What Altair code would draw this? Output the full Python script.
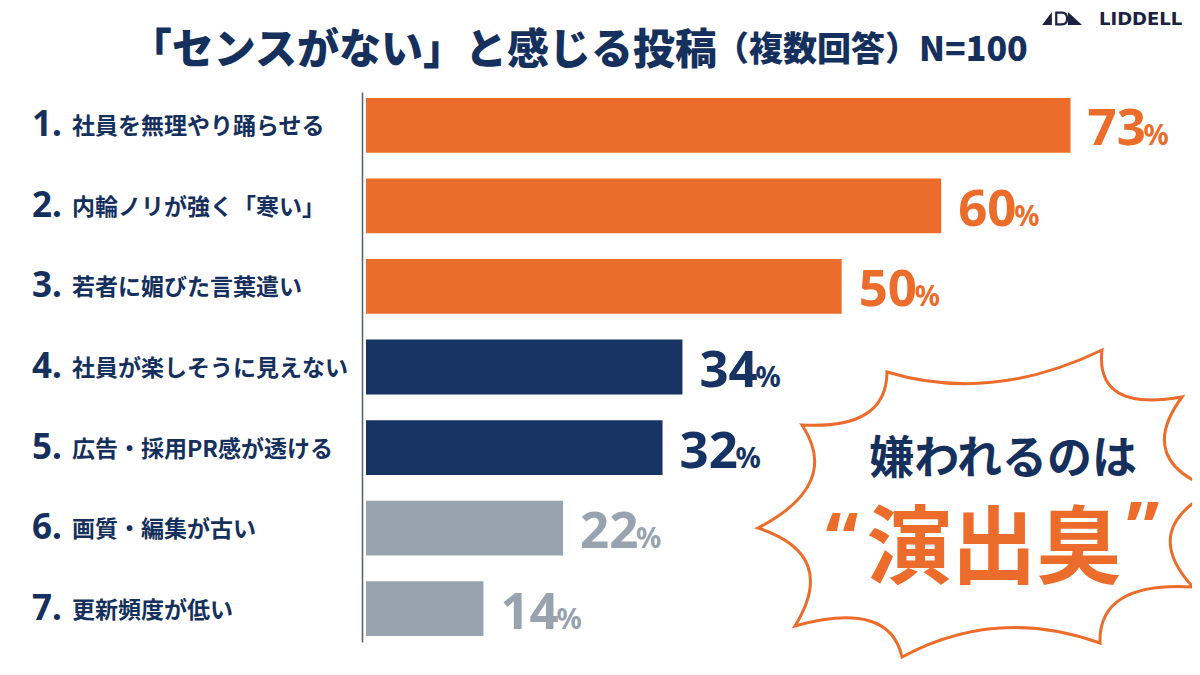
import altair as alt
import pandas as pd

# ---------------- data ----------------
ranks = ["1.", "2.", "3.", "4.", "5.", "6.", "7."]
items = [
    "社員を無理やり踊らせる",
    "内輪ノリが強く「寒い」",
    "若者に媚びた言葉遣い",
    "社員が楽しそうに見えない",
    "広告・採用PR感が透ける",
    "画質・編集が古い",
    "更新頻度が低い",
]
values = [73, 60, 50, 34, 32, 22, 14]
groups = ["high", "high", "high", "mid", "mid", "low", "low"]

title_main = "「センスがない」と感じる投稿"
title_sub = "（複数回答）N=100"
callout_top = "嫌われるのは"
callout_main = "演出臭"
logo_text = "LIDDELL"

# burst outline vertices (normalised, clockwise from the top)
burst_spikes = [
    (0.468, -0.612), (0.788, -0.424), (0.92, -0.052), (0.832, 0.336),
    (0.46, 0.56), (-0.332, 0.616), (-0.76, 0.492), (-0.908, 0.1),
    (-0.732, -0.312), (-0.392, -0.524),
]

# ---------------- styles ----------------
ORANGE = "#EC6C2B"
NAVY = "#15305C"
BAR_NAVY = "#163364"
GRAY = "#98A3AF"
INK = "#1C2140"
CJK = "Noto Sans CJK JP"

# build burst path (concave edges via quadratic curves)
def _f(v):
    return f"{v:.3f}"

parts = [f"M{_f(burst_spikes[0][0])},{_f(burst_spikes[0][1])}"]
n = len(burst_spikes)
for i in range(n):
    x0, y0 = burst_spikes[i]
    x1, y1 = burst_spikes[(i + 1) % n]
    cx, cy = (x0 + x1) / 2 * 0.7, (y0 + y1) / 2 * 0.7
    parts.append(f"Q{_f(cx)},{_f(cy)} {_f(x1)},{_f(y1)}")
parts.append("Z")
burst_path = " ".join(parts)

# logo glyph shapes
logo_tri_left = "M-0.7,0.93 L0.7,-0.93 L0.7,0.93 Z"
logo_d_shape = "M-0.75,-0.85 L0.05,-0.85 Q0.8,-0.85 0.8,0 Q0.8,0.85 0.05,0.85 L-0.75,0.85 Z"
logo_tri_right = "M-1,-0.93 L-1,0.93 L1,0.93 Z"

df = pd.DataFrame({"rank": ranks, "item": items, "value": values, "group": groups})
df["num"] = df["value"].astype(str)

y = alt.Y(
    "item:N",
    sort=items,
    scale=alt.Scale(paddingInner=0.32, paddingOuter=0.075),
    axis=alt.Axis(labels=False, ticks=False, title=None, grid=False,
                  domainColor="#555C6B", domainWidth=1.5, offset=4),
)
color = alt.Color(
    "group:N",
    scale=alt.Scale(domain=["high", "mid", "low"], range=[ORANGE, BAR_NAVY, GRAY]),
    legend=None,
)
xq = alt.X("value:Q", stack=None,
           scale=alt.Scale(domain=[2.2, 84.2], clamp=True, nice=False, zero=False),
           axis=None)

base = alt.Chart(df)

bars = base.mark_bar().encode(x=xq, y=y, color=color)

nums = base.mark_text(
    align="left", baseline="alphabetic", dx=17, dy=20,
    font="Noto Sans", fontSize=51, fontWeight="bold",
).encode(x=xq, y=y, text="num:N", color=color)

pct = base.mark_text(
    align="left", baseline="alphabetic", dx=73, dy=20,
    font="Noto Sans", fontSize=28, fontWeight="bold", text="%",
).encode(x=xq, y=y, color=color)

rank_lbl = base.mark_text(
    align="left", baseline="alphabetic", dy=11,
    font="Noto Sans", fontSize=35, fontWeight="bold", color=NAVY,
).encode(x=alt.value(-334), y=y, text="rank:N")

item_lbl = base.mark_text(
    align="left", baseline="alphabetic", dy=9,
    font=CJK, fontSize=23, fontWeight="bold", color=NAVY,
).encode(x=alt.value(-294), y=y, text="item:N")

one = pd.DataFrame({"t": [title_main], "s": [title_sub], "a": [callout_top],
                    "b": [callout_main], "l": [logo_text]})
single = alt.Chart(one)

t_main = single.mark_text(
    align="right", baseline="middle", font=CJK, fontSize=42,
    fontWeight=900, color=NAVY,
).encode(x=alt.value(351), y=alt.value(-41), text="t:N")

t_sub = single.mark_text(
    align="left", baseline="middle", font=CJK, fontSize=34,
    fontWeight=900, color=NAVY,
).encode(x=alt.value(349), y=alt.value(-41), text="s:N")

logo = single.mark_text(
    align="left", baseline="alphabetic", font="DejaVu Sans", fontSize=18,
    fontWeight="bold", color=INK,
).encode(x=alt.value(733), y=alt.value(-67), text="l:N")

logo_a = single.mark_point(
    shape=logo_tri_left, size=196, filled=True, color=INK, opacity=1,
).encode(x=alt.value(681), y=alt.value(-73.5))

logo_d = single.mark_point(
    shape=logo_d_shape, size=196, filled=False, color=INK, strokeWidth=2.2, opacity=1,
).encode(x=alt.value(695.5), y=alt.value(-73.5))

logo_b = single.mark_point(
    shape=logo_tri_right, size=196, filled=True, color=INK, opacity=1,
).encode(x=alt.value(709), y=alt.value(-73.5))

burst = single.mark_point(
    shape=burst_path, size=250000, filled=True, color="white",
    stroke=ORANGE, strokeWidth=3, opacity=1,
).encode(x=alt.value(619), y=alt.value(411))

c_top = single.mark_text(
    align="center", baseline="middle", font=CJK, fontSize=45,
    fontWeight="bold", color=NAVY,
).encode(x=alt.value(637), y=alt.value(368), text="a:N")

c_main = single.mark_text(
    align="center", baseline="middle", font=CJK, fontSize=85,
    fontWeight="bold", color=ORANGE,
).encode(x=alt.value(628), y=alt.value(459), text="b:N")

q_open = single.mark_text(
    align="center", baseline="middle", font="Noto Sans", fontSize=74,
    fontWeight="bold", color=ORANGE, text="“",
).encode(x=alt.value(476), y=alt.value(452))

q_close = single.mark_text(
    align="center", baseline="middle", font="Noto Sans", fontSize=74,
    fontWeight="bold", color=ORANGE, text="”",
).encode(x=alt.value(777), y=alt.value(441))

chart = alt.layer(
    bars, nums, pct, rank_lbl, item_lbl, t_main, t_sub,
    logo_a, logo_d, logo_b, logo, burst, c_top, c_main, q_open, q_close,
).properties(
    width=816, height=550,
    padding={"left": 358, "top": 84, "right": 10, "bottom": 20},
    autosize=alt.AutoSizeParams(type="none"),
    background="white",
).configure_view(strokeOpacity=0)

chart.save("out.html", embed_options={"renderer": "svg", "actions": False})
